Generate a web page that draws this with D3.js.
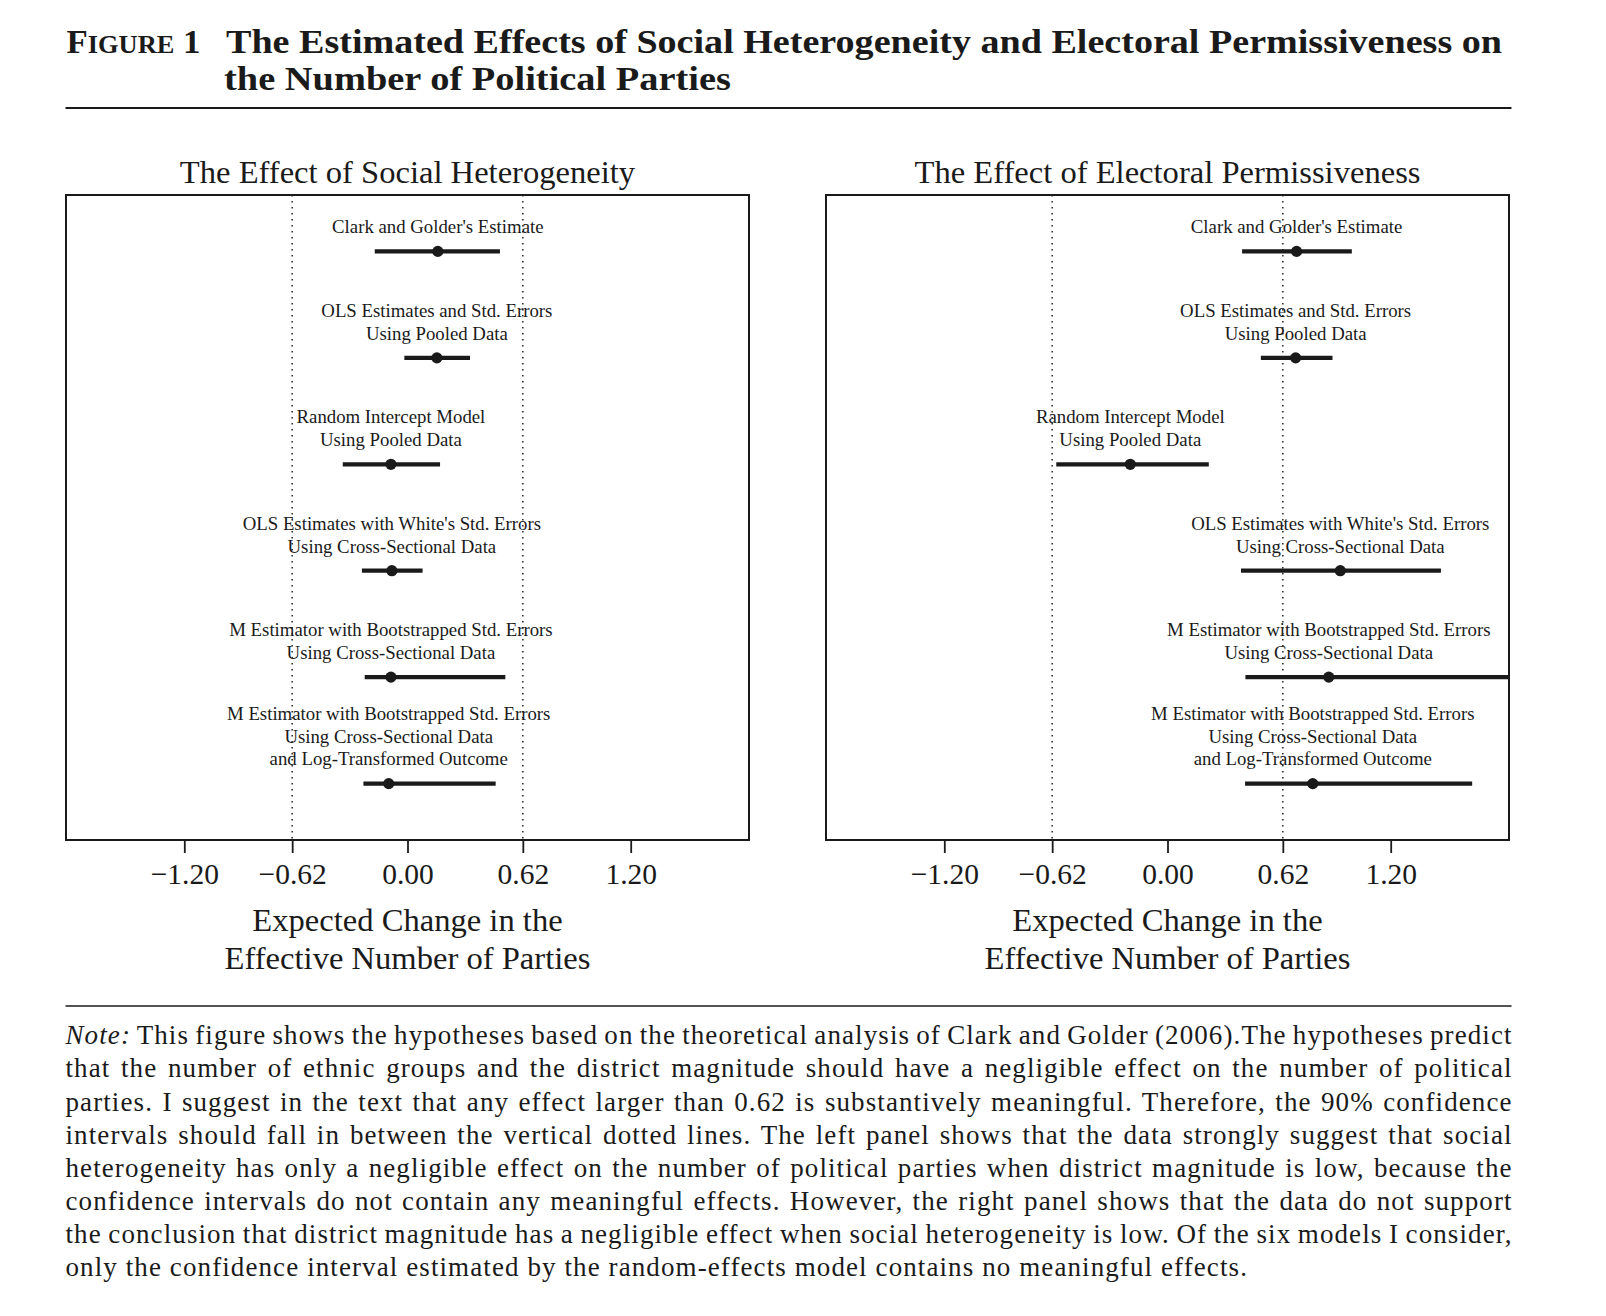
<!DOCTYPE html>
<html>
<head>
<meta charset="utf-8">
<script src="https://cdn.jsdelivr.net/npm/d3@7"></script>
<style>
  html, body { margin: 0; padding: 0; background: #fff; }
  svg { display: block; }
  text { font-family: "Liberation Serif", "Times New Roman", serif; fill: #1a1a1a; }
</style>
</head>
<body>
<svg id="chart" width="1606" height="1316"></svg>
<script>
// ---------------- DATA ----------------
const modelLabels = [
  ["Clark and Golder's Estimate"],
  ["OLS Estimates and Std. Errors", "Using Pooled Data"],
  ["Random Intercept Model", "Using Pooled Data"],
  ["OLS Estimates with White's Std. Errors", "Using Cross-Sectional Data"],
  ["M Estimator with Bootstrapped Std. Errors", "Using Cross-Sectional Data"],
  ["M Estimator with Bootstrapped Std. Errors", "Using Cross-Sectional Data", "and Log-Transformed Outcome"]
];
const socialEst = [0.163, 0.158, -0.089, -0.084, -0.089, -0.101];
const socialLo  = [-0.176, -0.017, -0.348, -0.245, -0.230, -0.237];
const socialHi  = [0.497, 0.336, 0.175, 0.081, 0.526, 0.474];

const electoralEst = [0.694, 0.689, -0.200, 0.929, 0.867, 0.781];
const electoralLo  = [0.401, 0.502, -0.598, 0.395, 0.419, 0.417];
const electoralHi  = [0.991, 0.887, 0.222, 1.470, 1.950, 1.638];

const tickValues = [-1.20, -0.62, 0.00, 0.62, 1.20];
const tickLabels = ["\u22121.20", "\u22120.62", "0.00", "0.62", "1.20"];
const thresholds = [-0.62, 0.62];

const panelTitles = ["The Effect of Social Heterogeneity", "The Effect of Electoral Permissiveness"];
const axisTitleLines = ["Expected Change in the", "Effective Number of Parties"];

const figureTitleLines = [
  "The Estimated Effects of Social Heterogeneity and Electoral Permissiveness on",
  "the Number of Political Parties"
];
const noteLines = [
  "This figure shows the hypotheses based on the theoretical analysis of Clark and Golder (2006).The hypotheses predict",
  "that the number of ethnic groups and the district magnitude should have a negligible effect on the number of political",
  "parties. I suggest in the text that any effect larger than 0.62 is substantively meaningful. Therefore, the 90% confidence",
  "intervals should fall in between the vertical dotted lines. The left panel shows that the data strongly suggest that social",
  "heterogeneity has only a negligible effect on the number of political parties when district magnitude is low, because the",
  "confidence intervals do not contain any meaningful effects. However, the right panel shows that the data do not support",
  "the conclusion that district magnitude has a negligible effect when social heterogeneity is low. Of the six models I consider,",
  "only the confidence interval estimated by the random-effects model contains no meaningful effects."
];

// ---------------- LAYOUT ----------------
const svg = d3.select("#chart");
const ink = "#1a1a1a";
const pageLeft = 65.5, pageRight = 1511.5;

// Figure title
const title = svg.append("text").attr("x", 66.5).attr("y", 52.5)
  .attr("font-weight", "bold").attr("font-size", 33)
  .attr("textLength", 134).attr("lengthAdjust", "spacingAndGlyphs");
title.append("tspan").text("F");
title.append("tspan").attr("font-size", 25).text("IGURE");
title.append("tspan").text(" 1");

svg.append("text").attr("x", 226).attr("y", 52.5)
  .attr("font-weight", "bold").attr("font-size", 33)
  .attr("textLength", 1276).attr("lengthAdjust", "spacingAndGlyphs")
  .text(figureTitleLines[0]);
svg.append("text").attr("x", 224).attr("y", 90)
  .attr("font-weight", "bold").attr("font-size", 33)
  .attr("textLength", 507).attr("lengthAdjust", "spacingAndGlyphs")
  .text(figureTitleLines[1]);

svg.append("line").attr("x1", pageLeft).attr("x2", pageRight)
  .attr("y1", 108).attr("y2", 108).attr("stroke", ink).attr("stroke-width", 2.2);

// Panels
const panels = [
  { left: 66, right: 749, est: socialEst, lo: socialLo, hi: socialHi, title: panelTitles[0] },
  { left: 826, right: 1509, est: electoralEst, lo: electoralLo, hi: electoralHi, title: panelTitles[1] }
];
const boxTop = 195, boxBottom = 840;

panels.forEach((p, pi) => {
  const x = d3.scaleLinear().domain([-1.836, 1.836]).range([p.left, p.right]);
  const y = d3.scaleLinear().domain([0.47, 6.53]).range([boxTop, boxBottom]);
  const g = svg.append("g");
  const cx = (p.left + p.right) / 2;

  const clipId = "clip" + pi;
  svg.append("clipPath").attr("id", clipId).append("rect")
    .attr("x", p.left).attr("y", boxTop).attr("width", p.right - p.left).attr("height", boxBottom - boxTop);

  // panel title
  g.append("text").attr("x", cx).attr("y", 182.5).attr("text-anchor", "middle")
    .attr("font-size", 32.6).text(p.title);

  // threshold dotted lines
  g.selectAll("line.thr").data(thresholds).join("line")
    .attr("x1", d => x(d)).attr("x2", d => x(d))
    .attr("y1", boxTop).attr("y2", boxBottom)
    .attr("stroke", "#333").attr("stroke-width", 1.6)
    .attr("stroke-dasharray", "1.6,4.4");

  // labels
  const rows = modelLabels.map((lab, i) => ({ lab, i, est: p.est[i], lo: p.lo[i], hi: p.hi[i] }));
  const lineH = 22.6, offset = 18.2;
  rows.forEach(r => {
    const n = r.lab.length;
    const t = g.append("text").attr("text-anchor", "middle").attr("font-size", 18.8);
    r.lab.forEach((s, k) => {
      t.append("tspan").attr("x", x(r.est))
        .attr("y", y(r.i + 1) - offset - (n - 1 - k) * lineH).text(s);
    });
  });

  // CI lines
  const cg = g.append("g").attr("clip-path", `url(#${clipId})`);
  cg.selectAll("line.ci").data(rows).join("line")
    .attr("x1", d => x(d.lo)).attr("x2", d => x(d.hi))
    .attr("y1", d => y(d.i + 1)).attr("y2", d => y(d.i + 1))
    .attr("stroke", ink).attr("stroke-width", 4.2);
  cg.selectAll("circle").data(rows).join("circle")
    .attr("cx", d => x(d.est)).attr("cy", d => y(d.i + 1)).attr("r", 5.6)
    .attr("fill", ink);

  // box
  g.append("rect").attr("x", p.left).attr("y", boxTop)
    .attr("width", p.right - p.left).attr("height", boxBottom - boxTop)
    .attr("fill", "none").attr("stroke", ink).attr("stroke-width", 2);

  // axis
  const axis = d3.axisBottom(x).tickValues(tickValues)
    .tickFormat((d, i) => tickLabels[i]).tickSize(13).tickPadding(10);
  const ag = g.append("g").attr("transform", `translate(0,${boxBottom})`).call(axis);
  ag.select(".domain").remove();
  ag.selectAll(".tick line").attr("stroke", ink).attr("stroke-width", 1.8);
  ag.selectAll(".tick text").attr("font-size", 29.5).attr("fill", ink)
    .attr("font-family", "Liberation Serif, serif");

  // axis title
  axisTitleLines.forEach((s, k) => {
    g.append("text").attr("x", cx).attr("y", 930.5 + k * 38.5)
      .attr("text-anchor", "middle").attr("font-size", 32.6).text(s);
  });
});

// Note
svg.append("line").attr("x1", pageLeft).attr("x2", pageRight)
  .attr("y1", 1006).attr("y2", 1006).attr("stroke", ink).attr("stroke-width", 1.6);

const noteFont = 27;
const lastLine = noteLines[noteLines.length - 1];
const probe = svg.append("text").attr("font-size", noteFont).text(lastLine);
const probeW = probe.node().getComputedTextLength();
probe.remove();
const letterSp = (1248 - pageLeft - probeW) / lastLine.length;

noteLines.forEach((s, i) => {
  const t = svg.append("text").attr("x", pageLeft).attr("y", 1044.3 + i * 33.15)
    .attr("font-size", noteFont).attr("letter-spacing", letterSp);
  if (i === 0) {
    t.append("tspan").attr("font-style", "italic").text("Note:");
    t.append("tspan").text(" " + s);
  } else {
    t.append("tspan").text(s);
  }
  if (i < noteLines.length - 1) {
    const w = t.node().getComputedTextLength();
    const full = i === 0 ? "Note: " + s : s;
    const spaces = (full.match(/ /g) || []).length;
    const extra = (pageRight - pageLeft - (w - letterSp)) / spaces;
    t.attr("word-spacing", extra);
  }
});
</script>
</body>
</html>
